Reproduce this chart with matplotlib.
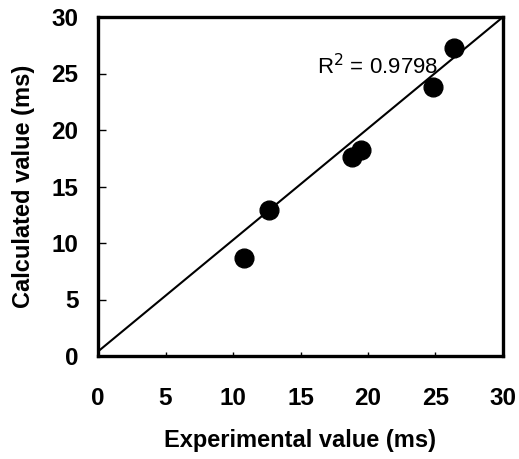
import matplotlib
matplotlib.use("Agg")
import matplotlib.pyplot as plt

# Data
experimental = [10.8, 12.7, 18.8, 19.5, 24.8, 26.4]
calculated = [8.7, 12.9, 17.6, 18.2, 23.8, 27.3]
line_x = [0, 30]
line_y = [0.4, 30.0]
r2_text = "R$^2$ = 0.9798"
ticks = [0, 5, 10, 15, 20, 25, 30]

plt.rcParams['font.family'] = ['Liberation Sans', 'DejaVu Sans']

fig = plt.figure(figsize=(5.19, 4.59), dpi=100)
ax = fig.add_axes([98/519, 1 - 356/459, 405/519, 339/459])

ax.plot(line_x, line_y, color='black', lw=1.5, zorder=2)
ax.plot(experimental, calculated, 'o', color='black', markersize=13.5, zorder=3)
ax.text(16.2, 25.6, r2_text, fontsize=16, ha='left', va='center', zorder=4)

ax.set_xlim(0, 30)
ax.set_ylim(0, 30)
ax.set_xticks(ticks)
ax.set_yticks(ticks)
ax.tick_params(direction='in', length=6, width=1, labelsize=17.5, pad=14)
ax.tick_params(axis='x', length=3, pad=22)
for lab in ax.get_xticklabels() + ax.get_yticklabels():
    lab.set_fontweight('bold')
for s in ax.spines.values():
    s.set_linewidth(2.4)

ax.set_xlabel("Experimental value (ms)", fontsize=17, fontweight='bold', labelpad=14)
ax.set_ylabel("Calculated value (ms)", fontsize=17, fontweight='bold', labelpad=12)

fig.savefig("out.png", dpi=100)
